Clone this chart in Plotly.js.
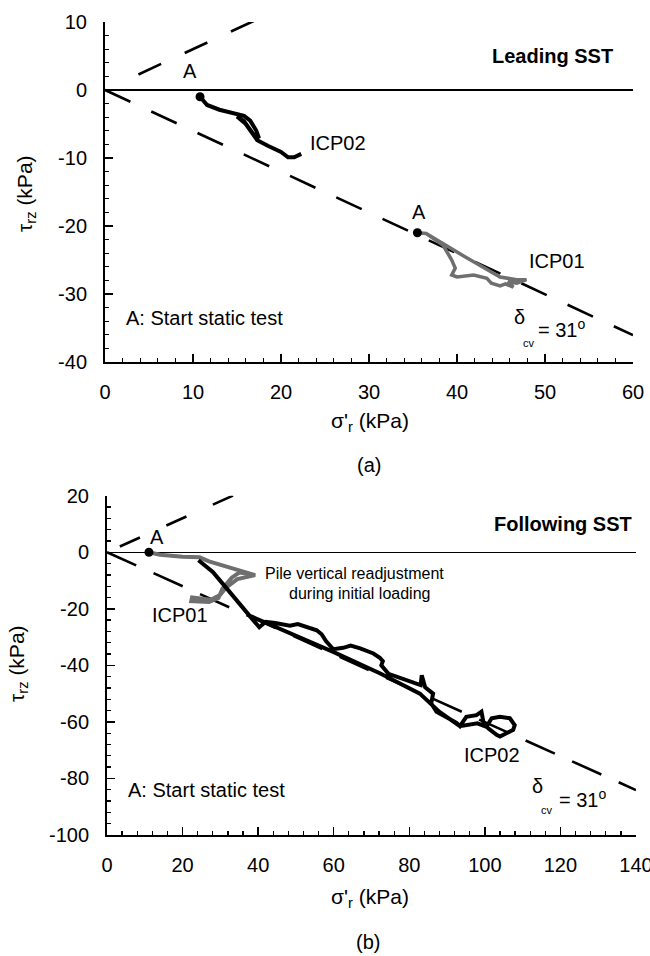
<!DOCTYPE html>
<html>
<head>
<meta charset="utf-8">
<script src="https://cdn.plot.ly/plotly-3.0.1.min.js"></script>
<style>
  html, body { margin: 0; padding: 0; background: #fff; }
  #chart { width: 650px; height: 956px; }
</style>
</head>
<body>
<div id="chart"></div>
<script>
// Interface friction angle used for the failure envelopes
const deltaCv = 31;

// (a) Leading SST - stress paths (sigma'_r, tau_rz) in kPa
const aIcp02X = [10.8, 11.6, 13.0, 15.0, 15.8, 16.5, 17.2, 17.5, 16.8, 15.8, 15.0, 16.0, 17.3, 18.5, 20.0, 20.8, 21.5, 22.3];
const aIcp02Y = [-1.0, -2.2, -2.9, -3.6, -3.8, -4.5, -6.0, -7.1, -6.4, -4.6, -3.9, -5.0, -7.4, -8.2, -9.1, -9.9, -9.9, -9.4];
const aIcp01X = [35.5, 36.5, 38.4, 39.4, 39.8, 39.4, 40.0, 41.9, 43.4, 43.9, 44.9, 45.5, 46.4, 45.8, 46.8, 47.9, 46.8, 44.9, 41.0, 37.0, 36.5];
const aIcp01Y = [-21.0, -21.1, -22.8, -25.0, -26.2, -27.2, -27.5, -27.2, -27.7, -28.4, -28.8, -28.5, -29.0, -28.2, -28.4, -27.9, -27.9, -27.5, -24.6, -21.6, -21.1];
const aStartX = [10.8, 35.5];
const aStartY = [-1.0, -21.0];

// (b) Following SST - stress paths (sigma'_r, tau_rz) in kPa
const bIcp01X = [11.1, 14.0, 20.0, 24.5, 27.0, 32.0, 39.2, 34.5, 31.5, 30.0, 27.5, 22.5, 22.3, 27.0, 29.5, 30.5, 33.0, 35.0, 38.5];
const bIcp01Y = [0.0, -0.9, -1.6, -1.8, -3.2, -5.2, -8.1, -9.5, -12.5, -15.0, -16.8, -16.0, -17.3, -17.6, -16.2, -13.0, -9.0, -7.2, -7.8];
const bIcp02X = [24.2, 28.0, 31.5, 34.5, 36.9, 38.7, 40.3, 42.0, 44.5, 48.4, 50.5, 53.0, 55.5, 56.8, 58.0, 59.9, 62.5, 64.5, 67.0, 70.5, 72.2, 73.0, 72.6, 74.5, 78.0, 81.5, 83.0, 83.3, 84.2, 86.3, 85.8, 87.2, 90.0, 92.5, 93.4, 95.1, 97.8, 99.1, 99.6, 100.9, 103.1, 104.0, 105.7, 107.5, 107.9, 106.6, 104.0, 101.8, 100.4, 98.0, 93.4, 88.0, 82.8, 72.2, 60.0, 48.0, 38.0];
const bIcp02Y = [-2.8, -7.0, -12.5, -17.5, -21.2, -24.0, -26.5, -24.6, -25.0, -26.0, -25.4, -26.4, -27.6, -29.0, -31.5, -34.3, -33.8, -33.0, -34.0, -35.8, -37.3, -38.5, -40.0, -43.0, -44.5, -46.3, -47.0, -43.5, -47.8, -50.0, -53.4, -56.4, -58.5, -60.3, -61.5, -58.2, -57.6, -56.4, -59.9, -62.3, -64.6, -65.2, -64.0, -62.8, -61.1, -58.7, -58.2, -58.7, -61.7, -60.5, -61.5, -56.5, -50.0, -42.8, -35.3, -28.2, -22.6];
const bStartX = [11.1];
const bStartY = [0.0];

// Axis ranges and tick labels
const aXRange = [0, 60], aYRange = [-40, 10];
const bXRange = [0, 140], bYRange = [-100, 20];
const aXTicks = [0, 10, 20, 30, 40, 50, 60];
const aXLabels = ['0', '10', '20', '30', '40', '50', '60'];
const aYTicks = [-40, -30, -20, -10, 0, 10];
const aYLabels = ['-40', '-30', '-20', '-10', '0', '10'];
const bXTicks = [0, 20, 40, 60, 80, 100, 120, 140];
const bXLabels = ['0', '20', '40', '60', '80', '100', '120', '140'];
const bYTicks = [-100, -80, -60, -40, -20, 0, 20];
const bYLabels = ['-100', '-80', '-60', '-40', '-20', '0', '20'];

// Where the upper (positive) envelopes start being drawn
const aUpperStart = 3.8, bUpperStart = 3.4;

const W = 650, H = 956;
const px = v => v / W;
const py = v => 1 - v / H;

const slope = Math.tan(deltaCv * Math.PI / 180);
function envelope(x0, xmax, sign) {
  return { x: [x0, xmax], y: [sign * slope * x0, sign * slope * xmax] };
}

const black = '#000000';
const grey = '#6f6f6f';
const font = 'Liberation Sans, Arial, sans-serif';

const eaU = envelope(aUpperStart, aXRange[1], 1), eaL = envelope(0, aXRange[1], -1);
const ebU = envelope(bUpperStart, bXRange[1], 1), ebL = envelope(0, bXRange[1], -1);

const traces = [
  // panel (a)
  { x: eaU.x, y: eaU.y, xaxis: 'x', yaxis: 'y', mode: 'lines', line: { color: black, width: 2.6, dash: '25px,26px' } },
  { x: eaL.x, y: eaL.y, xaxis: 'x', yaxis: 'y', mode: 'lines', line: { color: black, width: 2.6, dash: '28px,23px' } },
  { x: aIcp02X, y: aIcp02Y, xaxis: 'x', yaxis: 'y', mode: 'lines', line: { color: black, width: 4 } },
  { x: aIcp01X, y: aIcp01Y, xaxis: 'x', yaxis: 'y', mode: 'lines', line: { color: grey, width: 3.5 } },
  { x: aStartX, y: aStartY, xaxis: 'x', yaxis: 'y', mode: 'markers', marker: { color: black, size: 9 } },
  // panel (b)
  { x: ebU.x, y: ebU.y, xaxis: 'x2', yaxis: 'y2', mode: 'lines', line: { color: black, width: 2.6, dash: '22px,29px' } },
  { x: ebL.x, y: ebL.y, xaxis: 'x2', yaxis: 'y2', mode: 'lines', line: { color: black, width: 2.6, dash: '32px,19px' } },
  { x: bIcp01X, y: bIcp01Y, xaxis: 'x2', yaxis: 'y2', mode: 'lines', line: { color: grey, width: 4 } },
  { x: bIcp02X, y: bIcp02Y, xaxis: 'x2', yaxis: 'y2', mode: 'lines', line: { color: black, width: 4 } },
  { x: bStartX, y: bStartY, xaxis: 'x2', yaxis: 'y2', mode: 'markers', marker: { color: black, size: 9 } }
];

function axis(domain, range, tickvals, ticktext, minorDtick, anchor, isY) {
  return {
    domain: domain, range: range,
    tickmode: 'array', tickvals: tickvals, ticktext: ticktext,
    anchor: anchor,
    ticks: 'inside', ticklen: 8, tickwidth: 1.5, tickcolor: black,
    minor: { ticks: 'inside', ticklen: 4, tickwidth: 1.3, tickcolor: black, tickmode: 'linear', tick0: 0, dtick: minorDtick, showgrid: false },
    showline: true, linecolor: black, linewidth: 2, mirror: false,
    showgrid: false,
    zeroline: !!isY, zerolinecolor: black, zerolinewidth: 1.5,
    ticklabelstandoff: isY ? 12 : 11,
    ticklabeloverflow: 'allow',
    tickfont: { family: font, size: 20, color: black },
    fixedrange: true
  };
}

const aXDom = [px(105), px(633)], aYDom = [py(362), py(22)];
const bXDom = [px(107), px(636)], bYDom = [py(835), py(495.7)];

function note(text, x, y, size, opts) {
  return Object.assign({
    text: text, xref: 'paper', yref: 'paper', x: px(x), y: py(y),
    showarrow: false, font: { family: font, size: size, color: black },
    xanchor: 'center', yanchor: 'middle'
  }, opts || {});
}

const annotations = [
  // panel (a)
  note('<b>Leading SST</b>', 615, 56, 20, { xanchor: 'right' }),
  note('A', 190, 71, 20),
  note('ICP02', 308, 143, 20, { xanchor: 'left' }),
  note('A', 419, 212, 20),
  note('ICP01', 527, 261, 20, { xanchor: 'left' }),
  note('A: Start static test', 124, 318, 20, { xanchor: 'left' }),
  note('δ', 519, 317, 20),
  note('cv', 529, 343, 11),
  note('= 31<sup>o</sup>', 536, 328, 20, { xanchor: 'left' }),
  note('σ\'<sub>r</sub> (kPa)', 370, 422, 21),
  note('τ<sub>rz</sub> (kPa)', 26, 194, 21, { textangle: -90 }),
  note('(a)', 369, 465, 20),
  // panel (b)
  note('<b>Following SST</b>', 634, 524, 20, { xanchor: 'right' }),
  note('A', 157, 537, 20),
  note('Pile vertical readjustment', 355, 573, 16),
  note('during initial loading', 359, 593, 16),
  note('ICP01', 180, 615, 20),
  note('ICP02', 492, 755, 20),
  note('A: Start static test', 126, 790, 20, { xanchor: 'left' }),
  note('δ', 537, 786, 20),
  note('cv', 547, 810, 11),
  note('= 31<sup>o</sup>', 557, 798, 20, { xanchor: 'left' }),
  note('σ\'<sub>r</sub> (kPa)', 370, 898, 21),
  note('τ<sub>rz</sub> (kPa)', 18, 664, 21, { textangle: -90 }),
  note('(b)', 368, 942, 20)
];

const layout = {
  width: W, height: H,
  margin: { l: 0, r: 0, t: 0, b: 0 },
  paper_bgcolor: '#ffffff', plot_bgcolor: '#ffffff',
  showlegend: false,
  xaxis: axis(aXDom, aXRange, aXTicks, aXLabels, 2, 'y', false),
  yaxis: axis(aYDom, aYRange, aYTicks, aYLabels, 2, 'x', true),
  xaxis2: axis(bXDom, bXRange, bXTicks, bXLabels, 4, 'y2', false),
  yaxis2: axis(bYDom, bYRange, bYTicks, bYLabels, 4, 'x2', true),
  annotations: annotations
};

Plotly.newPlot('chart', traces, layout, { staticPlot: true, displayModeBar: false });
</script>
</body>
</html>
